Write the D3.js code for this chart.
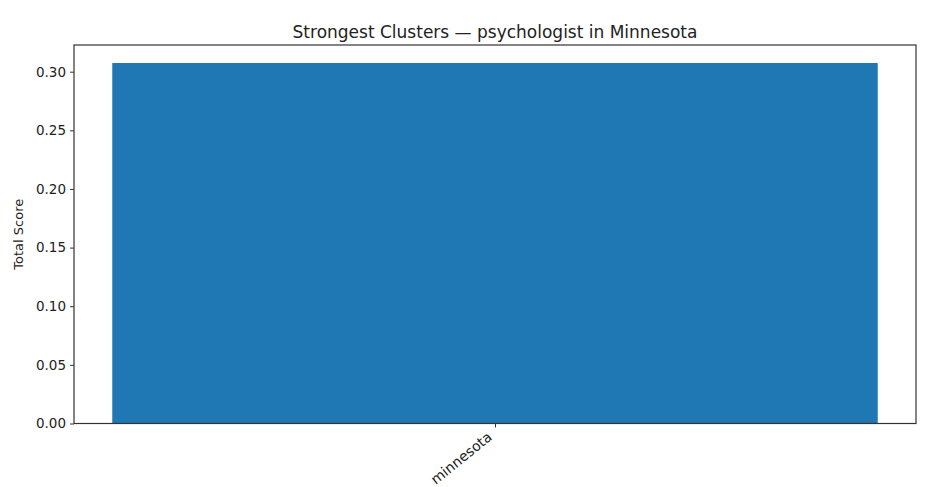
<!DOCTYPE html>
<html>
<head>
<meta charset="utf-8">
<script src="https://cdn.jsdelivr.net/npm/d3@7"></script>
<style>
  body { margin: 0; background: #fff; }
  text { font-family: "DejaVu Sans", sans-serif; fill: #222; }
  .axis path, .axis line { stroke: #333; }
</style>
</head>
<body>
<div id="chart"></div>
<script>
// data
var categories = ["minnesota"];
var scores = [0.3074];
var yTicks = [0, 0.05, 0.10, 0.15, 0.20, 0.25, 0.30];
var titleText = "Strongest Clusters \u2014 psychologist in Minnesota";
var yLabel = "Total Score";

// size
var W = 940, H = 487;
var margin = {top: 45, right: 24, bottom: 63.5, left: 74};
var w = W - margin.left - margin.right;
var h = H - margin.top - margin.bottom;

var svgBG = d3.select("#chart").append("svg").attr("width", W).attr("height", H);
var svg = svgBG.append("g").attr("transform", "translate(" + margin.left + "," + margin.top + ")");

// matplotlib style: bar width 0.8, 5% margins
var n = categories.length;
var xScale = d3.scaleLinear().domain([-0.44, n - 1 + 0.44]).range([0, w]);
var yScale = d3.scaleLinear().domain([0, d3.max(scores) * 1.05]).range([h, 0]);

svg.selectAll("rect.bar")
    .data(scores)
    .enter().append("rect")
    .attr("class", "bar")
    .attr("x", function(d, i) { return xScale(i - 0.4); })
    .attr("width", function(d, i) { return xScale(i + 0.4) - xScale(i - 0.4); })
    .attr("y", function(d) { return yScale(d); })
    .attr("height", function(d) { return h - yScale(d); })
    .style("fill", "#1f77b4");

// axes
var yAxis = d3.axisLeft(yScale).tickValues(yTicks).tickFormat(d3.format(".2f")).tickSize(4).tickPadding(4);
var gy = svg.append("g").attr("class", "axis").call(yAxis);
gy.select(".domain").remove();
gy.selectAll("text").style("font-size", "13.5px");

var xAxis = d3.axisBottom(xScale).tickValues(d3.range(n)).tickFormat(function(i) { return categories[i]; }).tickSize(4);
var gx = svg.append("g").attr("class", "axis").attr("transform", "translate(0," + h + ")").call(xAxis);
gx.select(".domain").remove();
gx.selectAll("text")
    .style("font-size", "14px")
    .attr("text-anchor", "end")
    .attr("dy", null)
    .attr("y", 0)
    .attr("transform", "translate(-9,7) rotate(-39)")
    .attr("dominant-baseline", "hanging");

// frame
svg.append("rect")
    .attr("x", 0).attr("y", 0).attr("width", w).attr("height", h)
    .style("fill", "none").style("stroke", "#333").style("stroke-width", 1.2);

// title and label
svgBG.append("text")
    .attr("x", margin.left + w / 2).attr("y", 38)
    .attr("text-anchor", "middle")
    .style("font-size", "17px")
    .text(titleText);

svgBG.append("text")
    .attr("transform", "translate(23," + (margin.top + h / 2) + ") rotate(-90)")
    .attr("text-anchor", "middle")
    .style("font-size", "13px")
    .text(yLabel);
</script>
</body>
</html>
